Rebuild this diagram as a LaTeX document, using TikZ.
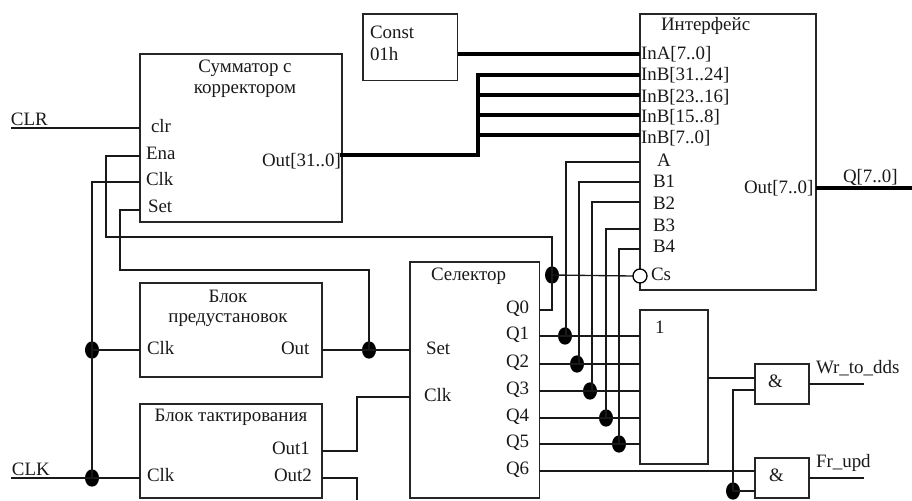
\documentclass[tikz,border=0pt]{standalone}
\usepackage{fontspec}
\setmainfont{Liberation Serif}
\usetikzlibrary{shapes.geometric}
\tikzset{
 blk/.style={draw=black!85,line width=1pt,anchor=north west,outer sep=0pt,inner sep=0pt},
 wire/.style={draw=black!90,line width=1pt},
 bus/.style={draw=black,line width=2.3pt},
 dotn/.style={shape=ellipse,fill=black,inner sep=0pt,minimum width=10.5pt,minimum height=13pt},
 inv/.style={shape=circle,draw=black,fill=white,line width=1pt,inner sep=0pt,minimum size=10.5pt},
 lbl/.style={anchor=base west,inner sep=0pt,outer sep=0pt,font=\fontsize{14.2}{16}\selectfont,text=black!90},
 lblc/.style={lbl,anchor=base},
}
\begin{document}
\begin{tikzpicture}[x=0.75pt,y=-0.75pt]
\useasboundingbox (0,0) rectangle (912,500);
% blocks
\node[blk,minimum width=151.5pt,minimum height=126pt] (add) at (140,54) {};
\node[blk,minimum width=71pt,minimum height=50pt] (const) at (363,14) {};
\node[blk,minimum width=132pt,minimum height=207pt] (iface) at (640,14) {};
\node[blk,minimum width=136.5pt,minimum height=70.5pt] (pre) at (140,283) {};
\node[blk,minimum width=136.5pt,minimum height=70.5pt] (clkb) at (140,404) {};
\node[blk,minimum width=97pt,minimum height=177pt] (sel) at (410,262) {};
\node[blk,minimum width=51pt,minimum height=115.5pt] (orb) at (640,310) {};
\node[blk,minimum width=40.5pt,minimum height=30pt] (and1) at (755,364) {};
\node[blk,minimum width=40.5pt,minimum height=30pt] (and2) at (755,458) {};
% free ends and ports
\coordinate (clrIn) at (11,128);
\coordinate (clkIn) at (11,478);
\coordinate (addClr) at (140,128);
\coordinate (addEna) at (140,156);
\coordinate (addClk) at (140,182);
\coordinate (addSet) at (140,210);
\coordinate (addOut) at (342,155);
\coordinate (busJ) at (478,155);
\coordinate (inA) at (640,54);
\coordinate (constOut) at (458,54);
\coordinate (inB1) at (640,75);
\coordinate (inB2) at (640,95);
\coordinate (inB3) at (640,115);
\coordinate (inB4) at (640,135);
\coordinate (busT) at (478,75);
\coordinate (busB) at (478,95);
\coordinate (busC) at (478,115);
\coordinate (busD) at (478,135);
\coordinate (qOut) at (816,188);
\coordinate (qEnd) at (912,188);
\coordinate (wrEnd) at (864,384);
\coordinate (frEnd) at (864,478);
\coordinate (out2End) at (357,500);
% dots
\node[dotn] (d0) at (552,275) {};
\node[dotn] (d1) at (565,336) {};
\node[dotn] (d2) at (577,364) {};
\node[dotn] (d3) at (590,391) {};
\node[dotn] (d4) at (606,418) {};
\node[dotn] (d5) at (619,444) {};
\node[dotn] (dP) at (369,350) {};
\node[dotn] (dC1) at (92,350) {};
\node[dotn] (dC2) at (92,478) {};
\node[dotn] (dA) at (733,491) {};
% wires
\draw[wire] (clrIn) -- (addClr);
\draw[wire] (addEna) -| (106,237) -| (d0.center);
\draw[wire] (addClk) -| (dC2.center);
\draw[wire] (addSet) -| (120,270) -| (dP.center);
\draw[wire] (clkIn) -- (140,478);
\draw[wire] (dC1.center) -- (140,350);
\draw[wire] (322,350) -- (410,350);
\draw[wire] (322,451) -| (357,397) -- (410,397);
\draw[wire] (322,478) -| (out2End);
\draw[wire] (539,310) -| (d0.center);
\draw[wire] (d0.center) -- (633,276);
% selector to or
\draw[wire] (539,336) -- (640,336);
\draw[wire] (539,364) -- (640,364);
\draw[wire] (539,391) -- (640,391);
\draw[wire] (539,418) -- (640,418);
\draw[wire] (539,444) -- (640,444);
\draw[wire] (539,471) -- (755,471);
% back up to interface
\draw[wire] (640,162) -| (566,336);
\draw[wire] (640,182) -| (579,364);
\draw[wire] (640,202) -| (592,391);
\draw[wire] (640,229) -| (606,418);
\draw[wire] (640,249) -| (619,444);
% gates
\draw[wire] (708,378) -- (755,378);
\draw[wire] (755,390) -| (dA.center);
\draw[wire] (dA.center) -- (755,491);
\draw[wire] (809,384) -- (wrEnd);
\draw[wire] (809,478) -- (frEnd);
% buses
\draw[bus] (qOut) -- (qEnd);
\draw[bus] (constOut) -- (inA);
\draw[bus,line cap=rect] (addOut) -- (busJ) -- (busT);
\draw[bus] (busT) -- (inB1);
\draw[bus] (busB) -- (inB2);
\draw[bus] (busC) -- (inB3);
\draw[bus] (busD) -- (inB4);
\node[inv] (csc) at (640,276) {};
% labels
\node[lbl] (tClr) at (11,125) {CLR};
\node[lbl] (tClk) at (12,475) {CLK};
\node[lblc] (t1) at (245,72) {Сумматор с};
\node[lblc] (t2) at (245,93) {корректором};
\node[lbl] (t3) at (151,132) {clr};
\node[lbl] (t4) at (146,159) {Ena};
\node[lbl] (t5) at (146,185) {Clk};
\node[lbl] (t6) at (148,212) {Set};
\node[lbl] (t7) at (262,166) {Out[31..0]};
\node[lbl] (t8) at (370,38) {Const};
\node[lbl] (t9) at (370,60) {01h};
\node[lbl] (t10) at (661,30) {Интерфейс};
\node[lbl] (t11) at (641,59) {InA[7..0]};
\node[lbl] (t12) at (641,80) {InB[31..24]};
\node[lbl] (t13) at (641,102) {InB[23..16]};
\node[lbl] (t14) at (641,122) {InB[15..8]};
\node[lbl] (t15) at (641,143) {InB[7..0]};
\node[lbl] (t16) at (657,166) {A};
\node[lbl] (t17) at (653,187) {B1};
\node[lbl] (t18) at (653,209) {B2};
\node[lbl] (t19) at (653,231) {B3};
\node[lbl] (t20) at (653,252) {B4};
\node[lbl] (t21) at (651,280) {Cs};
\node[lbl] (t22) at (744,193) {Out[7..0]};
\node[lbl] (t23) at (843,182) {Q[7..0]};
\node[lblc] (t24) at (228,302) {Блок};
\node[lblc] (t25) at (228,322) {предустановок};
\node[lbl] (t26) at (147,354) {Clk};
\node[lbl] (t27) at (281,354) {Out};
\node[lblc] (t28) at (231,421) {Блок тактирования};
\node[lbl] (t29) at (272,454) {Out1};
\node[lbl] (t30) at (274,481) {Out2};
\node[lbl] (t31) at (147,481) {Clk};
\node[lbl] (t32) at (431,280) {Селектор};
\node[lbl] (t33) at (426,354) {Set};
\node[lbl] (t34) at (424,401) {Clk};
\node[lbl] (t35) at (506,313) {Q0};
\node[lbl] (t36) at (506,339) {Q1};
\node[lbl] (t37) at (506,367) {Q2};
\node[lbl] (t38) at (506,394) {Q3};
\node[lbl] (t39) at (506,421) {Q4};
\node[lbl] (t40) at (506,447) {Q5};
\node[lbl] (t41) at (506,474) {Q6};
\node[lbl] (t42) at (655,333) {1};
\node[lbl] (t43) at (768,387) {\&};
\node[lbl] (t44) at (769,481) {\&};
\node[lbl] (t45) at (816,373) {Wr\_to\_dds};
\node[lbl] (t46) at (816,467) {Fr\_upd};
\end{tikzpicture}
\end{document}
